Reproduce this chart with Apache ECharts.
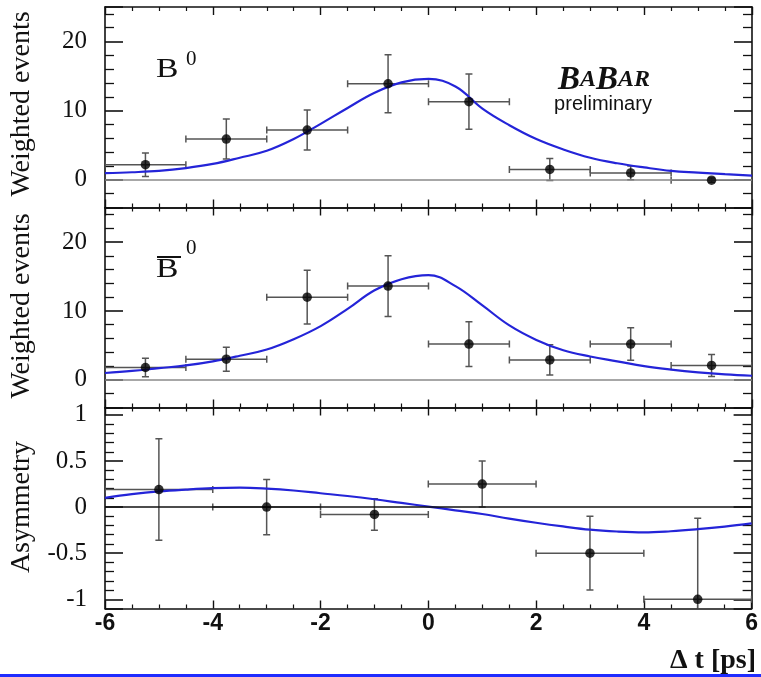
<!DOCTYPE html>
<html>
<head>
<meta charset="utf-8">
<script src="https://cdn.jsdelivr.net/npm/echarts@6/dist/echarts.min.js"></script>
<style>
html,body{margin:0;padding:0;background:#fff;}
#chart{width:761px;height:677px;}
</style>
</head>
<body>
<div id="chart"></div>
<script>
// ---------------- data ----------------
const xTicks = [-6, -4, -2, 0, 2, 4, 6];
const eventTicks = [0, 10, 20];
const asymTicks = [-1, -0.5, 0, 0.5, 1];

const binCenters = [-5.25, -3.75, -2.25, -0.75, 0.75, 2.25, 3.75, 5.25];
const binHalfWidth = 0.75;
const b0Values = [2.2, 5.9, 7.2, 13.9, 11.3, 1.5, 1.0, -0.05];
const b0Errors = [1.7, 2.9, 2.9, 4.2, 4.0, 1.6, 1.0, 0.3];
const b0barValues = [1.8, 3.0, 12.0, 13.6, 5.2, 2.9, 5.2, 2.1];
const b0barErrors = [1.35, 1.75, 3.9, 4.4, 3.25, 2.2, 2.35, 1.6];

const asymCenters = [-5, -3, -1, 1, 3, 5];
const asymHalfWidth = 1;
const asymValues = [0.19, 0.0, -0.08, 0.25, -0.5, -1.0];
const asymErrors = [0.55, 0.3, 0.17, 0.25, 0.4, 0.88];

const curveX = [-6, -5.5, -5, -4.5, -4, -3.5, -3, -2.5, -2, -1.5, -1, -0.5, 0, 0.5, 1, 1.5, 2, 2.5, 3, 3.5, 4, 4.5, 5, 5.5, 6];
const b0Curve = [0.97, 1.1, 1.3, 1.7, 2.3, 3.2, 4.2, 5.9, 8.1, 10.4, 12.6, 14.1, 14.6, 13.5, 10.3, 7.9, 5.9, 4.4, 3.2, 2.4, 1.8, 1.3, 1.05, 0.82, 0.62];
const b0barCurve = [1.0, 1.3, 1.7, 2.1, 2.7, 3.5, 4.4, 5.9, 7.8, 10.3, 13.0, 14.6, 15.2, 13.6, 10.8, 7.9, 5.8, 4.3, 3.4, 2.7, 2.0, 1.5, 1.1, 0.8, 0.6];
const asymCurve = [0.10, 0.14, 0.17, 0.19, 0.205, 0.21, 0.20, 0.18, 0.15, 0.12, 0.085, 0.045, 0.005, -0.035, -0.075, -0.125, -0.17, -0.21, -0.245, -0.265, -0.274, -0.262, -0.24, -0.212, -0.177];

// ---------------- layout ----------------
const LEFT = 105, WIDTH = 647;
const panels = [
  {top: 7, height: 200.5, min: -4, max: 25, splitNumber: 3, majors: eventTicks, zeroColor: '#8a8a8a'},
  {top: 207.5, height: 200, min: -4, max: 25, splitNumber: 3, majors: eventTicks, zeroColor: '#8a8a8a'},
  {top: 407.5, height: 201, min: -1.1, max: 1.08, splitNumber: 4, majors: asymTicks, zeroColor: '#111'}
];

const FRAME = {color: '#111', width: 1.6};
const serif = "'Liberation Serif', 'DejaVu Serif', serif";
const sans = "'Liberation Sans', Arial, sans-serif";

const grid = [], xAxis = [], yAxis = [], series = [];

panels.forEach((p, i) => {
  grid.push({left: LEFT, width: WIDTH, top: p.top, height: p.height});
  ['bottom', 'top'].forEach(pos => {
    xAxis.push({
      type: 'value', gridIndex: i, position: pos, min: -6, max: 6, interval: 2,
      axisLine: {show: true, onZero: false, lineStyle: FRAME},
      axisTick: {show: true, inside: true, length: 8, lineStyle: {color: '#111', width: 1.4}},
      minorTick: {show: true, splitNumber: 4, length: 4, lineStyle: {color: '#111', width: 1.2}},
      splitLine: {show: false},
      axisLabel: {show: (i === 2 && pos === 'bottom'), margin: 4, fontSize: 23, color: '#111',
                  fontFamily: sans, fontWeight: 'bold',
                  formatter: v => (xTicks.indexOf(v) >= 0 ? String(v) : '')}
    });
  });
  ['left', 'right'].forEach(pos => {
    yAxis.push({
      type: 'value', gridIndex: i, position: pos, min: p.min, max: p.max, splitNumber: p.splitNumber,
      axisLine: {show: true, onZero: false, lineStyle: FRAME},
      axisTick: {show: true, inside: true, length: 18, lineStyle: {color: '#111', width: 1.6}},
      minorTick: {show: true, splitNumber: 5, length: 9, lineStyle: {color: '#111', width: 1.3}},
      splitLine: {show: false},
      axisLabel: {show: pos === 'left', showMinLabel: false, showMaxLabel: false, margin: 18, fontSize: 25,
                  color: '#111', fontFamily: serif,
                  formatter: v => (p.majors.indexOf(v) >= 0 ? String(v) : '')}
    });
  });
});

function errorBarSeries(panelIdx, centers, half, values, errors) {
  const data = centers.map((c, k) => [c, values[k], c - half, c + half, values[k] - errors[k], values[k] + errors[k]]);
  return {
    type: 'custom', xAxisIndex: panelIdx * 2, yAxisIndex: panelIdx * 2, clip: true, z: 3,
    data: data,
    renderItem: function (params, api) {
      const x = api.value(0), y = api.value(1);
      const pL = api.coord([api.value(2), y]);
      const pR = api.coord([api.value(3), y]);
      const pB = api.coord([x, api.value(4)]);
      const pT = api.coord([x, api.value(5)]);
      const cap = 3.5;
      const st = {stroke: '#555', lineWidth: 1.5, fill: null};
      return {
        type: 'group',
        children: [
          {type: 'line', shape: {x1: pL[0], y1: pL[1], x2: pR[0], y2: pR[1]}, style: st},
          {type: 'line', shape: {x1: pL[0], y1: pL[1] - cap, x2: pL[0], y2: pL[1] + cap}, style: st},
          {type: 'line', shape: {x1: pR[0], y1: pR[1] - cap, x2: pR[0], y2: pR[1] + cap}, style: st},
          {type: 'line', shape: {x1: pB[0], y1: pB[1], x2: pT[0], y2: pT[1]}, style: st},
          {type: 'line', shape: {x1: pT[0] - cap, y1: pT[1], x2: pT[0] + cap, y2: pT[1]}, style: st},
          {type: 'line', shape: {x1: pB[0] - cap, y1: pB[1], x2: pB[0] + cap, y2: pB[1]}, style: st}
        ]
      };
    }
  };
}

function panelSeries(panelIdx, centers, half, values, errors, curve, zeroColor) {
  series.push({
    type: 'line', xAxisIndex: panelIdx * 2, yAxisIndex: panelIdx * 2, silent: true,
    data: [], markLine: {silent: true, symbol: ['none', 'none'], label: {show: false},
      lineStyle: {color: zeroColor, width: 1.5, type: 'solid'}, data: [{yAxis: 0}]}, z: 1
  });
  series.push(errorBarSeries(panelIdx, centers, half, values, errors));
  series.push({
    type: 'line', xAxisIndex: panelIdx * 2, yAxisIndex: panelIdx * 2,
    data: curveX.map((x, k) => [x, curve[k]]), smooth: 0.4, showSymbol: false, clip: true,
    lineStyle: {color: '#2424d8', width: 2.2}, z: 4
  });
  series.push({
    type: 'scatter', xAxisIndex: panelIdx * 2, yAxisIndex: panelIdx * 2,
    data: centers.map((c, k) => [c, values[k]]), symbolSize: 9.5,
    itemStyle: {color: '#000'}, z: 5
  });
}

panelSeries(0, binCenters, binHalfWidth, b0Values, b0Errors, b0Curve, panels[0].zeroColor);
panelSeries(1, binCenters, binHalfWidth, b0barValues, b0barErrors, b0barCurve, panels[1].zeroColor);
panelSeries(2, asymCenters, asymHalfWidth, asymValues, asymErrors, asymCurve, panels[2].zeroColor);

const graphic = [
  {type: 'text', x: 22, y: 104, rotation: Math.PI / 2,
   style: {text: 'Weighted events', font: "28px " + serif, fill: '#111', textAlign: 'center', textVerticalAlign: 'middle'}},
  {type: 'text', x: 22, y: 306, rotation: Math.PI / 2,
   style: {text: 'Weighted events', font: "28px " + serif, fill: '#111', textAlign: 'center', textVerticalAlign: 'middle'}},
  {type: 'text', x: 22, y: 507, rotation: Math.PI / 2,
   style: {text: 'Asymmetry', font: "28px " + serif, fill: '#111', textAlign: 'center', textVerticalAlign: 'middle'}},
  {type: 'text', x: 156, y: 70, scaleX: 1.2,
   style: {text: 'B', font: "28px " + serif, fill: '#111', textAlign: 'left', textVerticalAlign: 'middle'}},
  {type: 'text', x: 186, y: 59,
   style: {text: '0', font: "21px " + serif, fill: '#111', textAlign: 'left', textVerticalAlign: 'middle'}},
  {type: 'text', x: 156, y: 270, scaleX: 1.2,
   style: {text: 'B', font: "28px " + serif, fill: '#111', textAlign: 'left', textVerticalAlign: 'middle'}},
  {type: 'line', shape: {x1: 157, y1: 257, x2: 181, y2: 257}, style: {stroke: '#111', lineWidth: 2}},
  {type: 'text', x: 186, y: 248,
   style: {text: '0', font: "21px " + serif, fill: '#111', textAlign: 'left', textVerticalAlign: 'middle'}},
  {type: 'text', x: 604, y: 80,
   style: {text: '{b|B}{a|A}{b|B}{a|AR}', textAlign: 'center', textVerticalAlign: 'middle',
     rich: {b: {font: "italic bold 33px " + serif, fill: '#111'}, a: {font: "italic bold 24px " + serif, fill: '#111'}}}},
  {type: 'text', x: 603, y: 104,
   style: {text: 'preliminary', font: "20px " + sans, fill: '#111', textAlign: 'center', textVerticalAlign: 'middle'}},
  {type: 'text', x: 756, y: 661,
   style: {text: 'Δ t [ps]', font: "bold 28px " + serif, fill: '#111', textAlign: 'right', textVerticalAlign: 'middle'}},
  {type: 'rect', shape: {x: 0, y: 674, width: 761, height: 3}, style: {fill: '#1f2cff'}}
];

const chart = echarts.init(document.getElementById('chart'), null, {renderer: 'canvas'});
chart.setOption({
  animation: false,
  backgroundColor: '#fff',
  grid, xAxis, yAxis, series, graphic
});
</script>
</body>
</html>
